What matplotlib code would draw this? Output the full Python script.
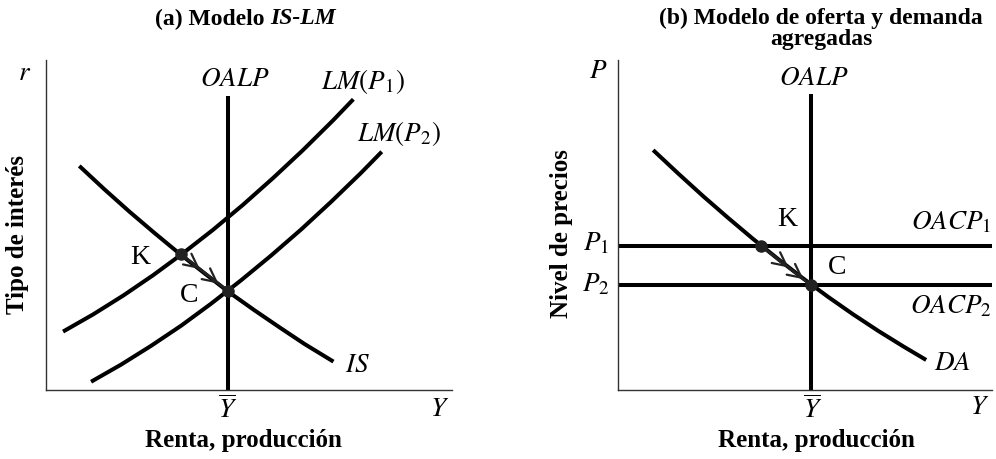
import matplotlib
matplotlib.use("Agg")
import matplotlib.pyplot as plt

plt.rcParams['font.family'] = ['Liberation Serif', 'DejaVu Serif']
plt.rcParams['mathtext.fontset'] = 'stix'

# ---------------- data (axis units 0-100) ----------------
# Panel (a): IS-LM
y_bar_a = 44.8
oalp_top_a = 89.1
lm1_x = [4.2, 11.6, 19.0, 26.4, 33.7, 41.1, 48.5, 55.9, 63.3, 70.7, 75.7]
lm1_y = [17.7, 22.9, 28.6, 34.8, 41.4, 48.5, 56.1, 64.2, 72.7, 81.7, 88.1]
lm2_x = [11.1, 18.5, 25.9, 33.3, 40.6, 48.0, 55.4, 62.8, 70.2, 77.6, 82.7]
lm2_y = [2.5, 7.7, 13.4, 19.5, 26.1, 33.2, 40.7, 48.6, 57.0, 65.8, 72.2]
is_x = [8.2, 14.4, 20.5, 26.7, 32.8, 39.0, 45.1, 51.3, 57.5, 63.6, 70.8]
is_y = [67.9, 60.8, 54.1, 47.6, 41.4, 35.4, 29.6, 24.2, 19.0, 14.0, 8.6]
K_a = (33.3, 41.1)
C_a = (44.8, 30.0)

# Panel (b): OA-DA
y_bar_b = 51.6
oalp_top_b = 89.6
P1 = 43.6
P2 = 31.8
da_x = [9.4, 16.1, 22.8, 29.5, 36.2, 42.9, 49.5, 56.2, 62.9, 69.6, 76.3, 82.4]
da_y = [72.7, 65.6, 58.7, 52.1, 45.7, 39.6, 33.8, 28.2, 22.9, 17.9, 13.2, 9.1]
K_b = (38.3, 43.6)
C_b = (51.6, 31.8)

W, H = 996, 459
fig = plt.figure(figsize=(W / 100, H / 100), dpi=100)

def px_axes(x0, x1, y0, y1):
    return fig.add_axes([x0 / W, 1 - y1 / H, (x1 - x0) / W, (y1 - y0) / H])

axA = px_axes(46, 452, 60, 390)
axB = px_axes(618, 992, 60, 390)

LW = 2.9
DOT = '#222222'
for ax in (axA, axB):
    ax.set_xlim(0, 100)
    ax.set_ylim(0, 100)
    ax.set_xticks([])
    ax.set_yticks([])
    for s in ('top', 'right'):
        ax.spines[s].set_visible(False)
    for s in ('left', 'bottom'):
        ax.spines[s].set_color('#333333')
        ax.spines[s].set_linewidth(1.0)
    ax.patch.set_visible(False)

def arrows(ax, K, C, fracs):
    ax.plot([K[0], C[0]], [K[1], C[1]], color='#222222', lw=1.8, solid_capstyle='butt', zorder=3)
    for f in fracs:
        tip = (K[0] + f * (C[0] - K[0]), K[1] + f * (C[1] - K[1]))
        ax.annotate('', xy=tip, xytext=K,
                    arrowprops=dict(arrowstyle='->,head_length=0.7,head_width=0.35',
                                    color='#222222', lw=1.6, shrinkA=0, shrinkB=0,
                                    mutation_scale=14),
                    zorder=3)

curve_kw = dict(color='k', lw=LW, solid_capstyle='butt', solid_joinstyle='round')

# ---- panel A ----
axA.plot([y_bar_a, y_bar_a], [0, oalp_top_a], **curve_kw)
axA.plot(lm1_x, lm1_y, **curve_kw)
axA.plot(lm2_x, lm2_y, **curve_kw)
axA.plot(is_x, is_y, **curve_kw)
arrows(axA, K_a, C_a, [0.4, 0.8])
axA.plot(*K_a, 'o', color=DOT, ms=8, zorder=4)
axA.plot(*C_a, 'o', color=DOT, ms=8, zorder=4)

# ---- panel B ----
axB.plot([y_bar_b, y_bar_b], [0, oalp_top_b], **curve_kw)
axB.plot([0, 100], [P1, P1], **curve_kw)
axB.plot([0, 100], [P2, P2], **curve_kw)
axB.plot(da_x, da_y, **curve_kw)
arrows(axB, K_b, C_b, [0.55, 0.85])
axB.plot(*K_b, 'o', color=DOT, ms=8, zorder=4)
axB.plot(*C_b, 'o', color=DOT, ms=8, zorder=4)

# ---------------- texts (pixel positions) ----------------
FS = 19.5
BFS = 18
TFS = 17
def t(x, y, s, **kw):
    kw.setdefault('fontsize', FS)
    kw.setdefault('ha', 'center')
    kw.setdefault('va', 'center')
    return fig.text(x / W, 1 - y / H, s, **kw)

# panel A labels
t(25, 74, r'$r$')
t(235, 79, r'$OALP$')
t(363, 82, r'$LM(P_1)$')
t(399, 134, r'$LM(P_2)$')
t(358, 366, r'$IS$')
t(140, 257, 'K', fontsize=20)
t(189, 295, 'C', fontsize=20)
t(228, 410, r'$\overline{Y}$')
t(440, 410, r'$Y$')
t(243, 441, 'Renta, producción', fontsize=BFS, fontweight='bold')
t(18, 235, 'Tipo de interés', fontsize=BFS, fontweight='bold', rotation=90)

# panel A title, split roman/italic
fig.canvas.draw()
r = fig.canvas.get_renderer()
a1 = t(0, 19, '(a) Modelo ', fontsize=TFS, fontweight='bold', ha='left')
a2 = t(0, 19, 'IS-LM', fontsize=TFS, fontweight='bold', fontstyle='italic', ha='left')
w1 = a1.get_window_extent(r).width
w2 = a2.get_window_extent(r).width
x0 = 245 - (w1 + w2) / 2
a1.set_x(x0 / W)
a2.set_x((x0 + w1) / W)

# panel B labels
t(598, 72, r'$P$')
t(814, 78, r'$OALP$')
t(787, 220, 'K', fontsize=20)
t(837, 268, 'C', fontsize=20)
t(951, 223, r'$OACP_1$')
t(951, 307, r'$OACP_2$')
t(953, 364, r'$DA$')
t(596, 244, r'$P_1$')
t(596, 285, r'$P_2$')
t(813, 410, r'$\overline{Y}$')
t(980, 407, r'$Y$')
t(816, 441, 'Renta, producción', fontsize=BFS, fontweight='bold')
t(561, 234, 'Nivel de precios', fontsize=BFS, fontweight='bold', rotation=90)
t(821, 29, '(b) Modelo de oferta y demanda\nagregadas', fontsize=TFS, fontweight='bold',
  linespacing=0.95)

fig.savefig('out.png', dpi=100)
